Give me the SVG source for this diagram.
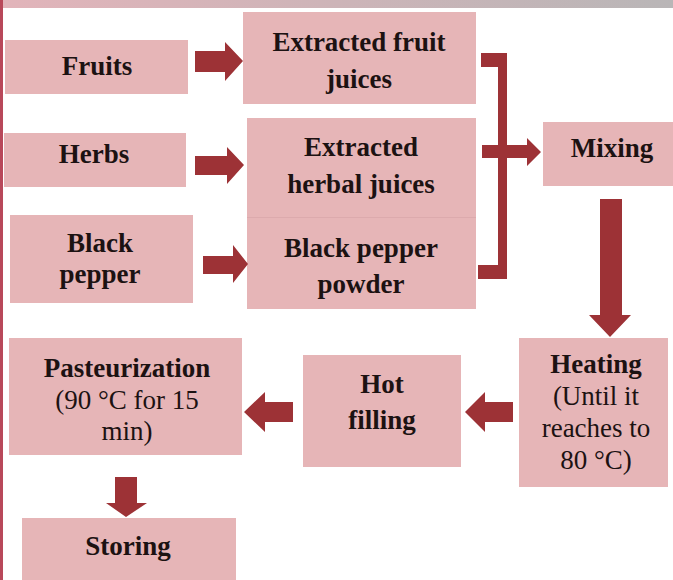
<svg xmlns="http://www.w3.org/2000/svg" width="673" height="580" viewBox="0 0 673 580">
<defs>
<linearGradient id="band" x1="0" y1="0" x2="1" y2="0">
<stop offset="0" stop-color="#e2b4ba"/>
<stop offset="0.5" stop-color="#cdb4b8"/>
<stop offset="1" stop-color="#b9b6b7"/>
</linearGradient>
<style>
.box{fill:#e6b5b7;}
.arr{fill:#9d3236;}
.b{font-family:"Liberation Serif","Times New Roman",serif;font-weight:bold;font-size:27px;fill:#1c1212;text-anchor:middle;}
.r{font-family:"Liberation Serif","Times New Roman",serif;font-size:27px;fill:#1c1212;text-anchor:middle;}
</style>
</defs>
<rect x="0" y="0" width="673" height="580" fill="#ffffff"/>
<rect x="0" y="0" width="673" height="8" fill="url(#band)"/>
<rect x="0" y="0" width="3" height="580" fill="#b8485a"/>

<g id="fruits"><rect class="box" x="5" y="40" width="183" height="54"/><text class="b" x="97" y="75">Fruits</text></g>
<g id="fruit-juices"><rect class="box" x="243" y="12" width="233" height="92"/><text class="b" x="359" y="51">Extracted fruit</text><text class="b" x="359" y="88">juices</text></g>
<g id="herbs"><rect class="box" x="4" y="133" width="182" height="54"/><text class="b" x="94" y="163">Herbs</text></g>
<g id="herbal-juices"><rect class="box" x="247" y="118" width="229" height="99"/><text class="b" x="361" y="156">Extracted</text><text class="b" x="361" y="193">herbal juices</text></g>
<g id="black-pepper"><rect class="box" x="10" y="215" width="183" height="88"/><text class="b" x="100" y="252">Black</text><text class="b" x="100" y="283">pepper</text></g>
<g id="pepper-powder"><rect class="box" x="247" y="218" width="229" height="91"/><line x1="247" y1="217.5" x2="476" y2="217.5" stroke="#dcaaad" stroke-width="1"/><text class="b" x="361" y="257">Black pepper</text><text class="b" x="361" y="293">powder</text></g>
<g id="mixing"><rect class="box" x="543" y="122" width="130" height="64"/><text class="b" x="612" y="157">Mixing</text></g>
<g id="heating"><rect class="box" x="519" y="338" width="149" height="149"/><text class="b" x="596" y="373">Heating</text><text class="r" x="596" y="405">(Until it</text><text class="r" x="596" y="437">reaches to</text><text class="r" x="596" y="469">80 °C)</text></g>
<g id="hot-filling"><rect class="box" x="303" y="355" width="158" height="112"/><text class="b" x="382" y="393">Hot</text><text class="b" x="382" y="429">filling</text></g>
<g id="pasteurization"><rect class="box" x="9" y="338" width="233" height="117"/><text class="b" x="127" y="377">Pasteurization</text><text class="r" x="127" y="409">(90 °C for 15</text><text class="r" x="127" y="440">min)</text></g>
<g id="storing"><rect class="box" x="22" y="518" width="214" height="62"/><text class="b" x="128" y="555">Storing</text></g>

<g id="connectors">
<polygon class="arr" points="195,51 225,51 225,42 243,61 225,81 225,72 195,72"/>
<polygon class="arr" points="195,156 227,156 227,147 244,165 227,184 227,175 195,175"/>
<polygon class="arr" points="203,256 233,256 233,245 248,264 233,283 233,274 203,274"/>
<polygon class="arr" points="481,53 507,53 507,279 478,279 478,265 498,265 498,67 481,67"/>
<polygon class="arr" points="482,145 527,145 527,138 541,152 527,166 527,158 482,158"/>
<polygon class="arr" points="600,199 622,199 622,315 631,315 610,337 589,315 600,315"/>
<polygon class="arr" points="513,402 485,402 485,392 465,412 485,432 485,422 513,422"/>
<polygon class="arr" points="293,402 265,402 265,392 244,412 265,432 265,422 293,422"/>
<polygon class="arr" points="115,477 137,477 137,503 147,503 126,517 106,503 115,503"/>
</g>
</svg>
